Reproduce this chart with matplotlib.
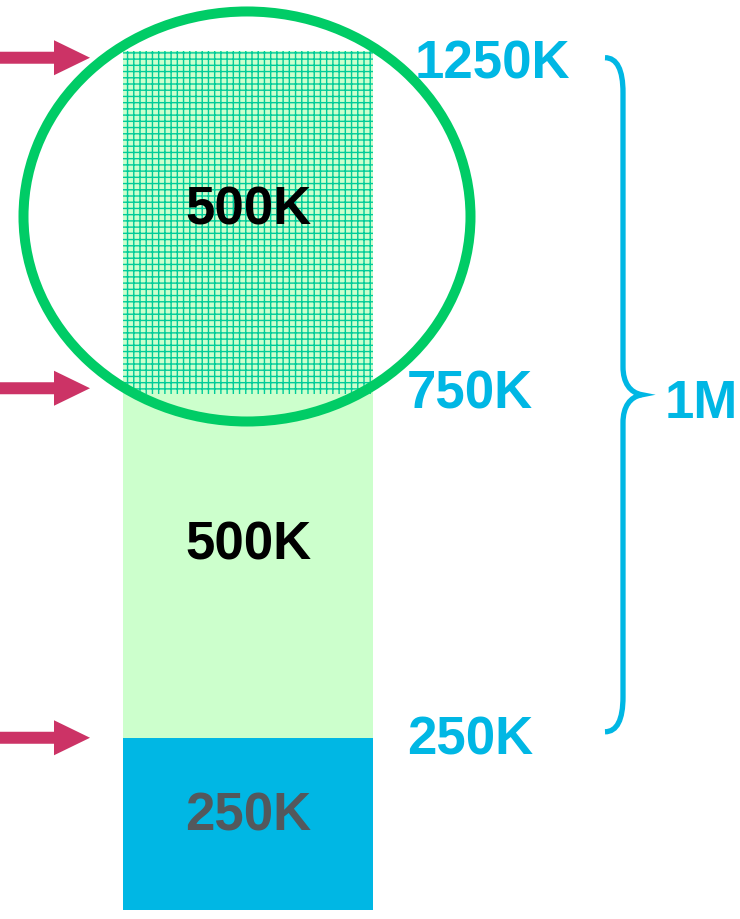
import matplotlib.pyplot as plt
import numpy as np
from matplotlib.patches import Ellipse, FancyArrow, PathPatch
from matplotlib.path import Path

DPI = 112


def pt(pixels):
    # pixel size -> points at the output resolution
    return pixels * 72 / DPI


plt.rcParams['font.family'] = ['Liberation Sans', 'DejaVu Sans']
plt.rcParams['hatch.linewidth'] = pt(1.4)

# stacked segments, bottom to top (values in K)
segment_values = [250, 500, 500]
segment_labels = ['250K', '500K', '500K']
boundary_labels = ['250K', '750K', '1250K']
brace_label = '1M'

blue = '#00B7E4'
light_green = '#CCFFCC'
grid_green = '#00CC99'
ring_green = '#00CC66'
arrow_red = '#CC3366'

fig = plt.figure(figsize=(740 / DPI, 920 / DPI), dpi=DPI)
ax = fig.add_axes([0, 0, 1, 1])
ax.set_xlim(0, 740)
ax.set_ylim(-13.8, 1325.3)
ax.axis('off')

px = 1 / 0.687  # one pixel in K units along y
big = pt(52.8)

tops = np.cumsum(segment_values)
bottoms = tops - np.array(segment_values)

bar_x, bar_w = 248, 250
styles = [
    dict(color=blue),
    dict(color=light_green),
    dict(facecolor=light_green, edgecolor=grid_green, hatch='+++', linewidth=0),
]
text_colors = ['#53585C', 'black', 'black']
text_lift = [8, 22, 13]
for val, b, st, lab, tc, lift in zip(segment_values, bottoms, styles,
                                     segment_labels, text_colors, text_lift):
    ax.bar(bar_x, val, width=bar_w, bottom=b, zorder=1, **st)
    ax.text(bar_x, b + val / 2 + lift * px, lab, ha='center', va='center',
            fontsize=big, fontweight='bold', color=tc, zorder=3)

# ring around the top segment
ax.add_patch(Ellipse((247, tops[-1] - segment_values[-1] / 2 + 6 * px), 447, 410 * px,
                     fill=False, edgecolor=ring_green, linewidth=pt(10), zorder=4))

# arrows on the left and values on the right of each boundary
label_x = [407, 407, 415]
label_shift = [-2, 1, -13]
arrow_shift = [0, 6, -7]
for t, lab, lx, ls, ash in zip(tops, boundary_labels, label_x, label_shift, arrow_shift):
    ax.add_patch(FancyArrow(-5, t + ash * px, 95, 0, width=12 * px, head_width=35 * px,
                            head_length=36, length_includes_head=True,
                            color=arrow_red, linewidth=0, zorder=2))
    ax.text(lx, t + ls * px, lab, ha='left', va='center', fontsize=big,
            fontweight='bold', color=blue, zorder=3)

# curly brace spanning the top two segments
lo, hi = tops[0] + 6 * px, tops[-1] - 7 * px
mid = (lo + hi) / 2
xt, xv, xm = 605, 623, 642
verts = [
    (xt, hi), (617, hi), (xv, hi - 12 * px), (xv, hi - 35 * px),
    (xv, mid + 28 * px),
    (xv, mid + 12 * px), (630, mid + 2 * px), (xm, mid),
    (630, mid - 2 * px), (xv, mid - 12 * px), (xv, mid - 28 * px),
    (xv, lo + 35 * px),
    (xv, lo + 12 * px), (617, lo), (xt, lo),
]
codes = [Path.MOVETO, Path.CURVE4, Path.CURVE4, Path.CURVE4,
         Path.LINETO,
         Path.CURVE4, Path.CURVE4, Path.CURVE4,
         Path.CURVE4, Path.CURVE4, Path.CURVE4,
         Path.LINETO,
         Path.CURVE4, Path.CURVE4, Path.CURVE4]
ax.add_patch(PathPatch(Path(verts, codes), fill=False, edgecolor=blue,
                       linewidth=pt(5.3), capstyle='butt', zorder=2))
ax.text(665, mid - 8 * px, brace_label, ha='left', va='center', fontsize=big,
        fontweight='bold', color=blue)

fig.savefig('out.png', dpi=DPI)
